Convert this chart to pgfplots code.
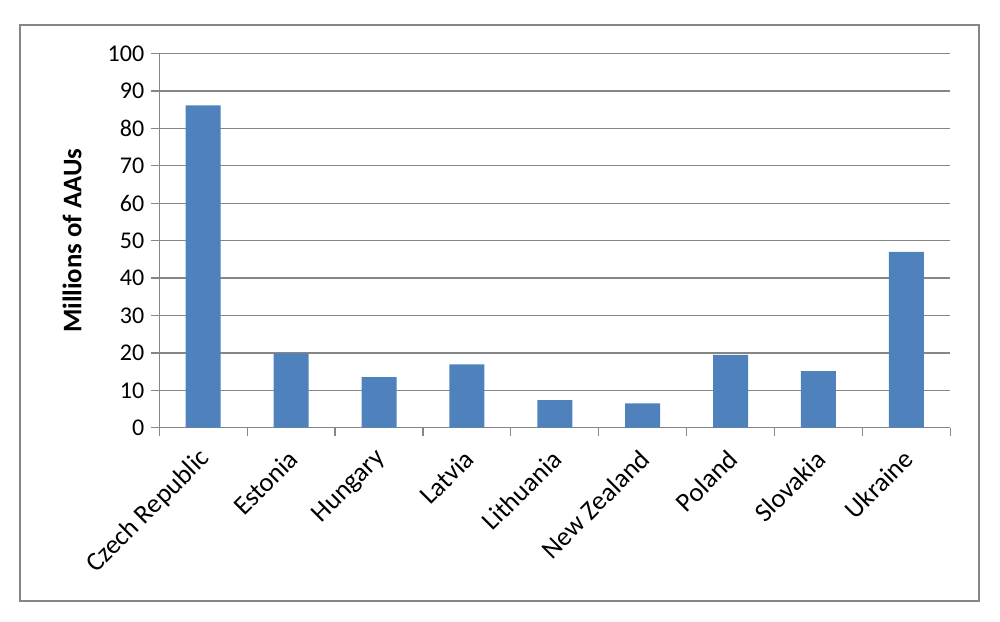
\documentclass[border=0pt]{standalone}
\usepackage{pgfplots}
\pgfplotsset{compat=1.18}
\usepackage{fontspec}
\setmainfont{Carlito}
\definecolor{barblue}{HTML}{4F81BD}
\definecolor{gridgray}{HTML}{868686}
\begin{document}
\begin{tikzpicture}
  % 1 px of the reference = 0.5pt
  \path (0pt,0pt) rectangle (500pt,310.5pt);
  \draw[gridgray, line width=0.6pt] (10pt,10pt) rectangle (489.5pt,298pt);
  \begin{axis}[
      at={(79.65pt,96.65pt)},
      anchor=south west,
      scale only axis,
      width=395.5pt,
      height=187pt,
      font=\fontsize{12}{14}\selectfont,
      ymin=0, ymax=100,
      ytick={0,10,...,100},
      xmin=-0.5, xmax=8.5,
      xtick={0,...,8},
      xticklabels={Czech Republic,Estonia,Hungary,Latvia,Lithuania,New Zealand,Poland,Slovakia,Ukraine},
      minor xtick={-0.5,0.5,...,8.5},
      axis x line=bottom,
      axis y line=left,
      axis line style={-, gridgray, line width=0.6pt},
      tick align=outside,
      major tick length=4pt,
      minor tick length=4pt,
      every tick/.style={gridgray, line width=0.6pt},
      major x tick style={draw=none},
      minor x tick style={draw=gridgray, line width=0.6pt},
      ymajorgrids,
      grid style={gridgray, line width=0.6pt},
      xticklabel style={xshift=3.6pt, yshift=-7pt, rotate=45, anchor=east,
        font=\fontsize{13.3}{16}\selectfont},
      ylabel={\textbf{Millions of AAUs}},
      ylabel style={at={(axis description cs:-0.1104,0.5)}, anchor=center,
        font=\fontsize{13.4}{16}\selectfont},
      /pgf/number format/assume math mode=true,
    ]
    \addplot[ybar, bar width=17.5pt, fill=barblue, draw=none] coordinates {
      (0,86.2) (1,19.9) (2,13.5) (3,16.9) (4,7.4)
      (5,6.5) (6,19.5) (7,15.1) (8,47.0)
    };
  \end{axis}
\end{tikzpicture}
\end{document}
